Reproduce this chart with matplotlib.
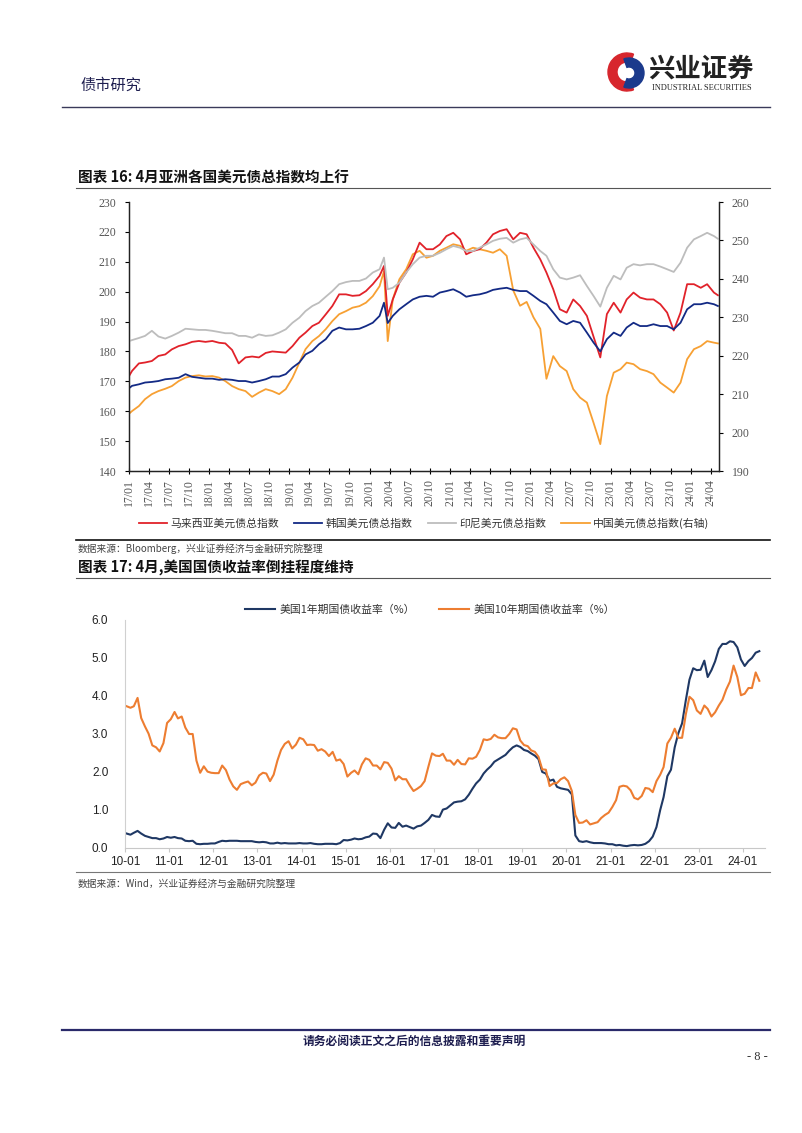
# 兴业证券 债市研究 page 8: Asian USD bond indices + US treasury yields

import matplotlib as mpl
import matplotlib.pyplot as plt
import matplotlib.dates as mdates
from matplotlib.patches import Wedge
import numpy as np
import pandas as pd

mpl.use("Agg")
plt.rcParams["font.family"] = ["Noto Sans CJK SC", "DejaVu Sans"]
plt.rcParams["axes.unicode_minus"] = False

# ---------------- chart 16 data (monthly readings, left axis unless noted) ----------------
start_date = "2017-01-03"
covid_dates = ["2020-03-06", "2020-03-23"]   # March 2020 spike and crash
end_date = "2024-05-03"

malaysia = [
    172.0,
    173.5, 176.0, 176.3, 176.8, 178.5, 179.0, 180.7, 181.8, 182.4, 183.2, 183.5, 183.2,
    183.5, 182.9, 182.7, 180.5, 176.0, 178.0, 178.3, 178.0, 179.5, 180.0, 179.8, 179.6,
    181.8, 184.6, 186.3, 188.5, 189.6, 192.4, 195.2, 199.1, 199.1, 198.6, 198.8, 200.2,
    202.5, 205.3, 208.6, 191.9, 197.4, 203.0, 206.4, 210.8, 216.4, 214.2, 214.2, 215.8, 218.6,
    219.7, 217.5, 212.5, 213.6, 214.2, 216.4, 219.2, 220.3, 220.9, 217.5, 219.7, 219.2,
    214.7, 210.8, 206.4, 200.8, 194.1, 193.0, 197.4, 195.2, 191.9, 185.0, 178.0, 192.5,
    196.3, 193.0, 197.4, 199.7, 198.0, 197.4, 197.4, 195.8, 193.0, 187.0, 193.0, 202.5,
    202.5, 201.3, 202.5, 199.7,
    198.8,
]
korea = [
    167.8,
    168.5, 169.0, 169.6, 169.8, 170.1, 170.7, 170.9, 171.2, 172.4, 171.5, 171.2, 170.9,
    170.9, 170.5, 170.7, 170.5, 170.1, 170.1, 169.6, 170.1, 170.7, 171.6, 171.6, 172.4,
    174.6, 176.3, 179.0, 180.2, 182.4, 184.1, 186.9, 188.0, 187.4, 187.4, 187.6, 188.5,
    189.6, 191.9, 196.3, 189.5, 191.9, 194.1, 195.8, 197.4, 198.3, 198.6, 198.3, 199.7, 200.2,
    200.8, 199.7, 198.3, 198.8, 199.1, 199.7, 200.6, 201.0, 201.3, 200.6, 200.2, 200.2,
    198.6, 196.9, 195.8, 193.0, 190.2, 189.1, 190.2, 189.6, 186.3, 183.0, 180.0, 184.1,
    186.3, 185.2, 188.0, 189.6, 188.5, 188.5, 189.1, 188.5, 188.5, 187.4, 189.6, 194.1,
    195.8, 195.8, 196.3, 195.8,
    195.2,
]
indonesia = [
    183.5,
    183.8, 184.5, 185.2, 186.9, 185.0, 184.3, 185.2, 186.3, 187.6, 187.4, 187.2, 187.2,
    186.9, 186.5, 186.1, 186.1, 185.2, 185.2, 184.6, 185.7, 185.2, 185.4, 186.3, 187.4,
    189.6, 191.3, 193.5, 195.2, 196.3, 198.3, 200.2, 202.5, 203.2, 203.6, 203.6, 204.4,
    206.4, 207.5, 211.4, 200.8, 201.3, 203.0, 206.4, 209.2, 211.4, 212.0, 212.0, 213.0, 214.2,
    215.3, 214.7, 213.6, 213.6, 214.7, 215.8, 217.0, 217.7, 218.0, 216.4, 217.5, 218.0,
    215.8, 213.6, 212.0, 207.5, 204.7, 204.1, 204.7, 205.5, 201.9, 198.6, 195.0, 201.3,
    205.3, 204.1, 208.0, 209.2, 208.8, 209.2, 209.2, 208.4, 207.5, 206.6, 209.7, 214.7,
    217.5, 218.6, 219.7, 218.6,
    217.7,
]
china_rhs = [
    205.0,
    205.6, 206.9, 208.7, 210.0, 210.8, 211.4, 212.1, 213.4, 214.3, 214.7, 214.9, 214.6,
    214.7, 214.3, 213.4, 212.1, 211.3, 210.8, 209.3, 210.4, 211.3, 210.8, 210.0, 211.3,
    214.3, 218.2, 221.7, 223.8, 225.1, 226.9, 229.0, 230.8, 231.6, 232.5, 232.9, 233.8,
    235.5, 238.1, 242.0, 223.8, 234.7, 239.9, 242.5, 246.4, 247.3, 245.5, 246.0, 247.3, 248.1,
    249.0, 248.6, 247.3, 248.1, 247.7, 247.3, 246.8, 247.7, 246.0, 237.0, 233.0, 234.0,
    230.0, 227.0, 214.0, 219.9, 217.3, 216.0, 211.3, 209.1, 207.8, 202.6, 197.0, 209.5,
    215.6, 216.5, 218.2, 217.8, 216.5, 216.0, 215.2, 213.0, 211.7, 210.4, 213.0, 219.1,
    221.7, 222.5, 223.8, 223.4,
    223.2,
]
legend16 = ["马来西亚美元债总指数", "韩国美元债总指数", "印尼美元债总指数", "中国美元债总指数(右轴)"]

# ---------------- chart 17 data (monthly, %) ----------------
ust1y = [
    0.38, 0.35, 0.40, 0.45, 0.38, 0.32, 0.29, 0.26, 0.26, 0.23, 0.25, 0.29,
    0.27, 0.29, 0.26, 0.25, 0.19, 0.18, 0.19, 0.11, 0.10, 0.11, 0.11, 0.12,
    0.12, 0.16, 0.19, 0.18, 0.19, 0.19, 0.19, 0.18, 0.18, 0.18, 0.18, 0.16,
    0.15, 0.16, 0.15, 0.12, 0.12, 0.14, 0.12, 0.13, 0.12, 0.12, 0.12, 0.13,
    0.12, 0.12, 0.13, 0.11, 0.10, 0.10, 0.11, 0.11, 0.11, 0.10, 0.13, 0.21,
    0.20, 0.22, 0.25, 0.23, 0.24, 0.28, 0.30, 0.38, 0.37, 0.26, 0.48, 0.65,
    0.54, 0.53, 0.66, 0.56, 0.59, 0.55, 0.51, 0.57, 0.59, 0.66, 0.74, 0.87,
    0.83, 0.82, 1.01, 1.04, 1.12, 1.20, 1.22, 1.23, 1.28, 1.40, 1.56, 1.70,
    1.80, 1.96, 2.06, 2.15, 2.27, 2.33, 2.39, 2.45, 2.56, 2.65, 2.70, 2.66,
    2.58, 2.55, 2.49, 2.43, 2.34, 2.00, 1.96, 1.77, 1.80, 1.61, 1.57, 1.55,
    1.53, 1.41, 0.33, 0.18, 0.16, 0.18, 0.15, 0.13, 0.13, 0.13, 0.12, 0.10,
    0.10, 0.07, 0.08, 0.06, 0.05, 0.07, 0.08, 0.07, 0.08, 0.11, 0.18, 0.30,
    0.55, 1.00, 1.34, 1.89, 2.06, 2.65, 3.02, 3.28, 3.89, 4.43, 4.73, 4.68,
    4.69, 4.93, 4.50, 4.68, 4.91, 5.24, 5.37, 5.37, 5.44, 5.42, 5.28, 4.96,
    4.79, 4.92, 5.00, 5.14, 5.18,
]
ust10y = [
    3.73, 3.69, 3.73, 3.95, 3.42, 3.20, 3.01, 2.70, 2.65, 2.54, 2.76, 3.29,
    3.39, 3.58, 3.41, 3.46, 3.17, 3.00, 3.00, 2.30, 1.98, 2.15, 2.01, 1.98,
    1.97, 1.97, 2.17, 2.05, 1.80, 1.62, 1.53, 1.68, 1.72, 1.75, 1.65, 1.72,
    1.91, 1.98, 1.96, 1.76, 1.93, 2.30, 2.58, 2.74, 2.81, 2.62, 2.72, 2.90,
    2.86, 2.71, 2.72, 2.71, 2.56, 2.60, 2.54, 2.42, 2.53, 2.30, 2.33, 2.21,
    1.88, 1.98, 2.04, 1.94, 2.20, 2.36, 2.32, 2.17, 2.17, 2.07, 2.26, 2.24,
    2.09, 1.78, 1.89, 1.81, 1.81, 1.64, 1.50, 1.56, 1.63, 1.76, 2.14, 2.49,
    2.43, 2.42, 2.48, 2.30, 2.30, 2.19, 2.32, 2.21, 2.20, 2.36, 2.35, 2.40,
    2.58, 2.86, 2.84, 2.87, 2.98, 2.91, 2.89, 2.89, 3.00, 3.15, 3.12, 2.83,
    2.71, 2.68, 2.57, 2.53, 2.40, 2.07, 2.06, 1.63, 1.70, 1.71, 1.81, 1.86,
    1.76, 1.50, 0.87, 0.66, 0.67, 0.73, 0.62, 0.65, 0.68, 0.79, 0.87, 0.93,
    1.08, 1.26, 1.61, 1.64, 1.62, 1.52, 1.32, 1.28, 1.37, 1.58, 1.56, 1.47,
    1.76, 1.93, 2.13, 2.75, 2.90, 3.14, 2.90, 2.90, 3.52, 3.98, 3.89, 3.62,
    3.53, 3.75, 3.66, 3.46, 3.57, 3.75, 3.90, 4.17, 4.38, 4.80, 4.50, 4.02,
    4.06, 4.21, 4.21, 4.62, 4.40,
]
legend17 = ["美国1年期国债收益率（%）", "美国10年期国债收益率（%）"]

# ---------------- dates ----------------
mid16 = list(pd.date_range("2017-01-01", "2024-04-01", freq="MS") + pd.Timedelta(days=14))
dates16 = ([pd.Timestamp(start_date)] + mid16[:38] + [pd.Timestamp(d) for d in covid_dates]
           + mid16[39:] + [pd.Timestamp(end_date)])
dates17 = pd.date_range("2010-01-01", "2024-05-01", freq="MS") + pd.Timedelta(days=14)

W, H = 802, 1133
fig = plt.figure(figsize=(W / 100, H / 100), dpi=100)


def fx(px):
    return px / W


def fy(py):
    return 1 - py / H


def hline(y, x0, x1, color, lw):
    fig.add_artist(plt.Line2D([fx(x0), fx(x1)], [fy(y), fy(y)], color=color, lw=lw))


navy_text = "#1d1d4f"

# ---------------- page header ----------------
fig.text(fx(80), fy(85), "债市研究", fontsize=11, color=navy_text, va="center")
fig.text(fx(648), fy(69), "兴业证券", fontsize=19, fontweight="bold", color="#222222", va="center")
fig.text(fx(652), fy(88), "INDUSTRIAL SECURITIES", fontsize=6, family="Liberation Serif",
         color="#222222", va="center")
logo = fig.add_axes([fx(607), fy(92), fx(40), 40 / H])
logo.set_xlim(-1, 1)
logo.set_ylim(-1, 1)
logo.set_aspect("equal")
logo.axis("off")
logo.add_patch(Wedge((0, 0), 0.95, 70, 290, width=0.45, color="#d7262d"))
logo.add_patch(Wedge((0.1, -0.05), 0.75, -110, 110, width=0.45, color="#1b3a8c"))
hline(107, 62, 770, "#3a3a5a", 1.0)

# ---------------- chart 16 ----------------
fig.text(fx(78), fy(178), "图表 16: 4月亚洲各国美元债总指数均上行", fontsize=10.5,
         fontweight="bold", color="#111111", va="center")
hline(188, 76, 770, "#555555", 0.8)

ax1 = fig.add_axes([fx(129), fy(471), fx(719 - 129), (471 - 202) / H])
ax2 = ax1.twinx()
c_red, c_navy, c_gray, c_orange = "#e1222a", "#132a85", "#bdbdbd", "#f7a033"
l1, = ax1.plot(dates16, malaysia, color=c_red, lw=1.3)
l2, = ax1.plot(dates16, korea, color=c_navy, lw=1.3)
l3, = ax1.plot(dates16, indonesia, color=c_gray, lw=1.3)
l4, = ax2.plot(dates16, china_rhs, color=c_orange, lw=1.3)
ax1.set_zorder(ax2.get_zorder() + 1)
ax1.patch.set_visible(False)

ax1.set_xlim(pd.Timestamp("2017-01-01"), pd.Timestamp("2024-05-08"))
ax1.set_ylim(140, 230)
ax2.set_ylim(190, 260)
ax1.set_yticks(np.arange(140, 231, 10))
ax2.set_yticks(np.arange(190, 261, 10))
qticks = pd.date_range("2017-01-01", "2024-04-01", freq="QS")
ax1.set_xticks(qticks)
ax1.xaxis.set_major_formatter(mdates.DateFormatter("%y/%m"))
for a in (ax1, ax2):
    for s in a.spines.values():
        s.set_color("#222222")
        s.set_linewidth(0.9)
    a.spines["top"].set_visible(False)
serif = "Liberation Serif"
ax1.tick_params(axis="x", direction="inout", length=5, width=0.8, labelsize=8.5,
                labelcolor="#555555", rotation=90, pad=3)
ax1.tick_params(axis="y", direction="out", length=3, width=0.8, labelsize=8.5,
                labelcolor="#555555", pad=6)
ax2.tick_params(axis="y", direction="out", length=3, width=0.8, labelsize=8.5,
                labelcolor="#555555", pad=6)
for lab in ax1.get_xticklabels() + ax1.get_yticklabels() + ax2.get_yticklabels():
    lab.set_fontfamily(serif)

fig.legend([l1, l2, l3, l4], legend16, loc="center", bbox_to_anchor=(fx(424), fy(523)),
           ncol=4, frameon=False, fontsize=7.8, handlelength=2.6, handletextpad=0.3,
           columnspacing=1.4, labelcolor="#333333")
hline(540, 76, 770, "#111111", 1.2)
fig.text(fx(78), fy(549), "数据来源：Bloomberg，兴业证券经济与金融研究院整理", fontsize=7,
         color="#444444", va="center")

# ---------------- chart 17 ----------------
fig.text(fx(78), fy(567), "图表 17: 4月,美国国债收益率倒挂程度维持", fontsize=10.5,
         fontweight="bold", color="#111111", va="center")
hline(578, 76, 770, "#555555", 0.8)

ax3 = fig.add_axes([fx(125), fy(848), fx(765 - 125), (848 - 620) / H])
m1, = ax3.plot(dates17, ust1y, color="#1f3864", lw=1.5)
m2, = ax3.plot(dates17, ust10y, color="#ed7d31", lw=1.5)
ax3.set_xlim(pd.Timestamp("2010-01-01"), pd.Timestamp("2024-07-01"))
ax3.set_ylim(0, 6)
ax3.set_yticks(np.arange(0, 6.1, 1.0))
ax3.yaxis.set_major_formatter(mpl.ticker.FormatStrFormatter("%.1f"))
ax3.set_xticks(pd.date_range("2010-01-01", "2024-01-01", freq="YS"))
ax3.xaxis.set_major_formatter(mdates.DateFormatter("%y-%m"))
ax3.spines["top"].set_visible(False)
ax3.spines["right"].set_visible(False)
ax3.spines["left"].set_color("#d0d0d0")
ax3.spines["bottom"].set_color("#c8c8c8")
ax3.tick_params(axis="x", direction="out", length=3, color="#c8c8c8", labelsize=8.5,
                labelcolor="#222222", pad=3)
ax3.tick_params(axis="y", length=0, labelsize=8.5, labelcolor="#222222", pad=12)
for lab in ax3.get_xticklabels() + ax3.get_yticklabels():
    lab.set_fontfamily("Liberation Sans")

fig.legend([m1, m2], legend17, loc="center", bbox_to_anchor=(fx(430), fy(610)), ncol=2,
           frameon=False, fontsize=7.8, handlelength=2.8, handletextpad=0.4,
           columnspacing=2.2, labelcolor="#333333")
hline(872, 76, 770, "#777777", 0.8)
fig.text(fx(78), fy(884), "数据来源：Wind，兴业证券经济与金融研究院整理", fontsize=7,
         color="#444444", va="center")

# ---------------- footer ----------------
hline(1030, 62, 770, "#2a2a6a", 1.6)
fig.text(fx(414), fy(1041), "请务必阅读正文之后的信息披露和重要声明", fontsize=8.5,
         fontweight="bold", color=navy_text, ha="center", va="center")
fig.text(fx(757), fy(1057), "- 8 -", fontsize=9, family="Liberation Serif",
         color="#333333", ha="center", va="center")

fig.savefig("out.png", dpi=100)
